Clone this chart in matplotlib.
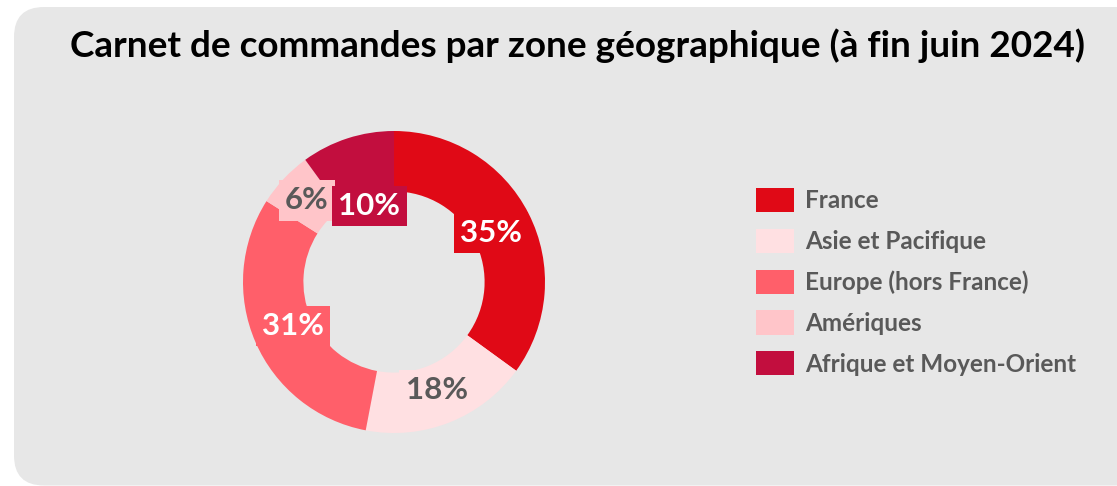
import matplotlib
matplotlib.use("Agg")
import matplotlib.pyplot as plt
from matplotlib.patches import FancyBboxPatch, Patch
import numpy as np

plt.rcParams['font.family'] = ['Lato', 'DejaVu Sans']

title = "Carnet de commandes par zone géographique (à fin juin 2024)"
zones = ["France", "Asie et Pacifique", "Europe (hors France)", "Amériques", "Afrique et Moyen-Orient"]
shares = [35, 18, 31, 6, 10]
labels = ["35%", "18%", "31%", "6%", "10%"]

colors = ["#E00916", "#FFE0E2", "#FF5F6A", "#FFC5C9", "#C20E3E"]
text_colors = ["white", "#595959", "white", "#595959", "white"]
label_radius = [0.72, 0.77, 0.73, 0.79, 0.53]

W, H = 1117, 486
fig = plt.figure(figsize=(W / 100, H / 100), dpi=100)
fig.patch.set_facecolor("white")

# background panel in pixel coordinates
bgax = fig.add_axes([0, 0, 1, 1], zorder=-5)
bgax.set_xlim(0, W)
bgax.set_ylim(H, 0)
bgax.axis("off")
bgax.add_patch(FancyBboxPatch((14, 7), W + 60, H - 7 + 0.5 - 1,
                              boxstyle="round,pad=0,rounding_size=30",
                              facecolor="#E7E7E7", edgecolor="none"))

fig.text(578 / W, 1 - 46 / H, title, ha="center", va="center",
         fontsize=26.6, fontweight="bold", color="black")

# donut axes: center (394, 282), radius 151
r = 151
ax = fig.add_axes([(394 - r) / W, 1 - (282 + r) / H, 2 * r / W, 2 * r / H])
ax.set_facecolor("none")
wedges, _ = ax.pie(shares, colors=colors, startangle=90, counterclock=False,
                   radius=1.0, wedgeprops=dict(width=0.4, edgecolor="none"))
ax.set_xlim(-1, 1)
ax.set_ylim(-1, 1)
ax.set_aspect("equal")
ax.axis("off")

for w, lab, tc, lr, c in zip(wedges, labels, text_colors, label_radius, colors):
    ang = np.deg2rad((w.theta1 + w.theta2) / 2)
    x, y = lr * np.cos(ang), lr * np.sin(ang)
    ax.text(x, y, lab, ha="center", va="center", fontsize=22.5, fontweight="bold",
            color=tc, bbox=dict(boxstyle="square,pad=0.2", facecolor=c, edgecolor="none"))

handles = [Patch(facecolor=c, edgecolor="none") for c in colors]
leg = fig.legend(handles, zones, loc="upper left",
                 bbox_to_anchor=(756 / W, 1 - 188 / H), frameon=False,
                 prop=dict(size=17.5, weight="bold"), labelcolor="#595959",
                 handlelength=1.56, handleheight=1.15, labelspacing=0.68,
                 handletextpad=0.47, borderpad=0, borderaxespad=0)

fig.savefig("out.png", dpi=100, facecolor="white")
